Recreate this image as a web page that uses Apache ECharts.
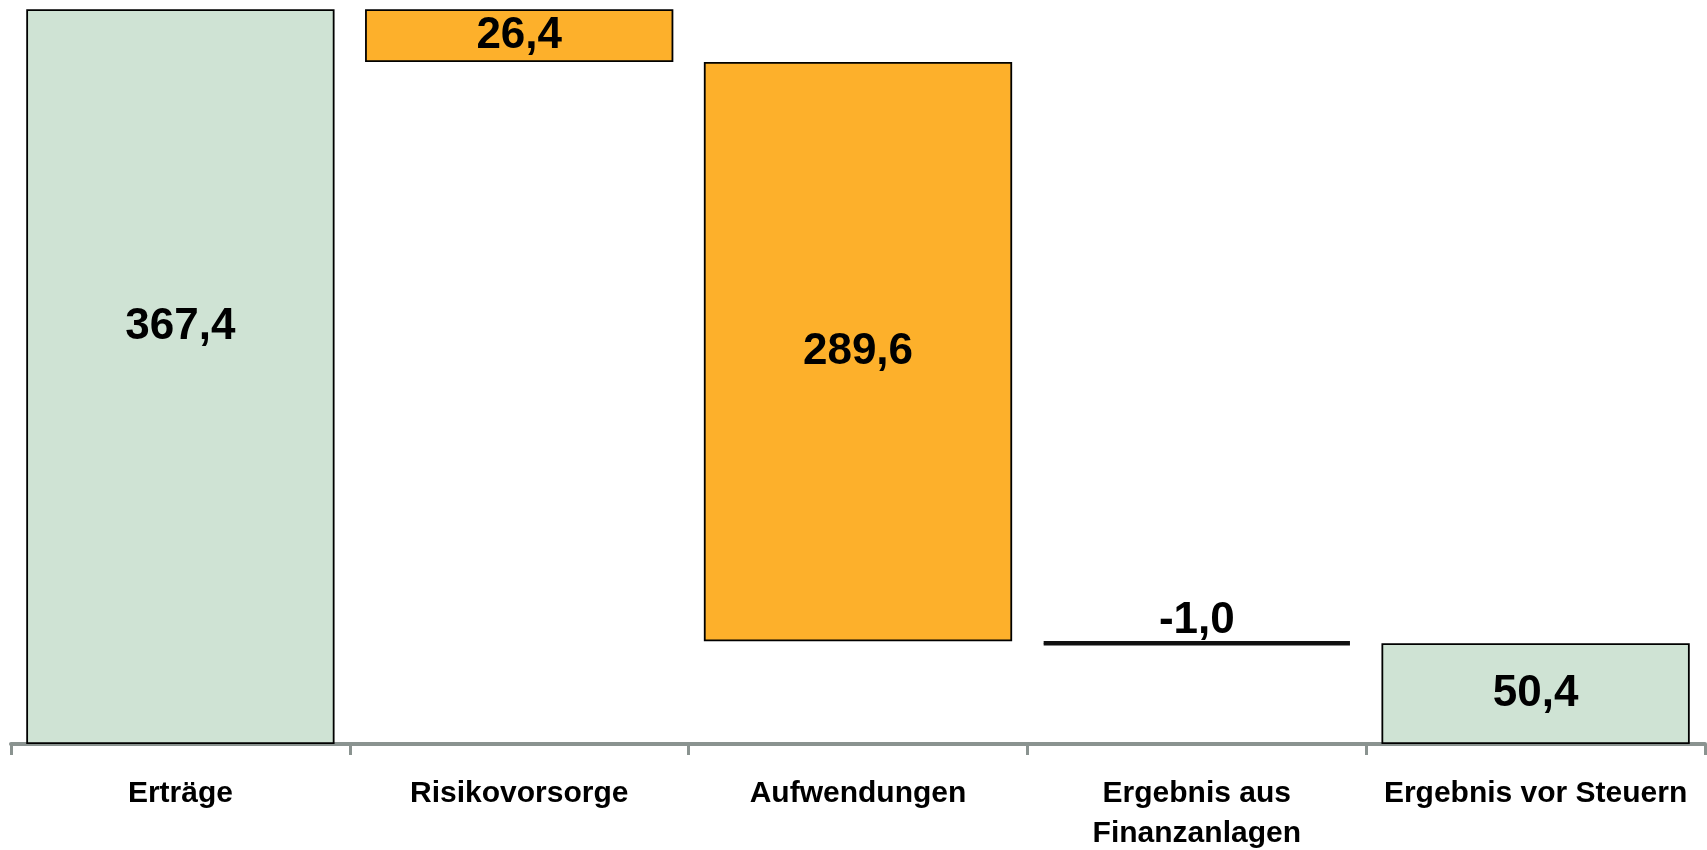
<!DOCTYPE html>
<html>
<head>
<meta charset="utf-8">
<script src="https://cdn.jsdelivr.net/npm/echarts@6/dist/echarts.min.js"></script>
<style>
html,body{margin:0;padding:0;background:#fff;}
#chart{width:1707px;height:850px;}
</style>
</head>
<body>
<div id="chart"></div>
<script>
// Data
var categories = ['Erträge', 'Risikovorsorge', 'Aufwendungen', 'Ergebnis aus\nFinanzanlagen', 'Ergebnis vor Steuern'];
var changes = [367.4, -26.4, -289.6, -1.0];   // waterfall steps
var resultValue = 50.4;                        // final total
var labelValues = [367.4, 26.4, 289.6, -1.0, 50.4];
var isTotal = [true, false, false, false, true];

// build stacked base / height
var base = [], height = [];
var running = 0;
changes.forEach(function (c, i) {
  if (i === 0) { base.push(0); height.push(c); running = c; }
  else {
    var next = running + c;
    base.push(Math.min(running, next));
    height.push(Math.abs(c));
    running = next;
  }
});
base.push(0); height.push(resultValue);

var green = '#cfe3d4', orange = '#fdb02b';
var fmt = function (v) { return v.toFixed(1).replace('.', ','); };

var barData = height.map(function (h, i) {
  var item = {
    value: h,
    itemStyle: { color: isTotal[i] ? green : orange, borderColor: '#000', borderWidth: 1.8 },
    label: { position: 'inside' }
  };
  if (i === 0) item.label.offset = [0, -50];
  if (i === 3) {
    item.itemStyle = { color: '#111', borderColor: '#111', borderWidth: 2.5,
      shadowColor: '#111', shadowBlur: 0, shadowOffsetY: 2 };
    item.label = { position: 'top', distance: -2 };
  }
  return item;
});

var chart = echarts.init(document.getElementById('chart'));
chart.setOption({
  animation: false,
  grid: { left: 11, right: 2, top: 4, bottom: 106, containLabel: false, outerBoundsMode: 'none' },
  xAxis: {
    type: 'category',
    data: categories,
    axisLine: { lineStyle: { color: '#8a9390', width: 4 } },
    axisTick: { show: true, length: 11, lineStyle: { color: '#8a9390', width: 3 } },
    axisLabel: {
      interval: 0, margin: 30, color: '#000',
      fontFamily: 'Liberation Sans, Arial, sans-serif', fontWeight: 'bold', fontSize: 30, lineHeight: 40
    }
  },
  yAxis: { type: 'value', min: 0, max: 370, show: false, splitLine: { show: false } },
  series: [
    { type: 'bar', stack: 'w', data: base, itemStyle: { color: 'transparent' }, barWidth: '91%', silent: true },
    {
      type: 'bar', stack: 'w', data: barData, barWidth: '91%',
      label: {
        show: true, color: '#000', fontFamily: 'Liberation Sans, Arial, sans-serif', fontWeight: 'bold', fontSize: 44,
        formatter: function (p) { return fmt(labelValues[p.dataIndex]); }
      }
    }
  ]
});
</script>
</body>
</html>
